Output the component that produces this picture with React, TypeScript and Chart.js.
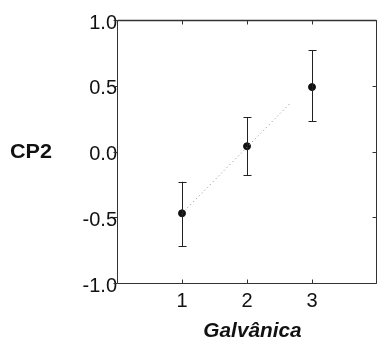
import React, { useEffect, useRef } from "react";
import { Chart, registerables } from "chart.js";

Chart.register(...registerables);

const groups = [1, 2, 3];
const means = [-0.47, 0.04, 0.49];
const upper = [-0.23, 0.26, 0.77];
const lower = [-0.72, -0.18, 0.23];
const fitX = [1, 2.67];
const fitY = [-0.47, 0.37];
const yTicks = [-1, -0.5, 0, 0.5, 1];
const xTicks = [1, 2, 3];
const yTitle = "CP2";
const xTitle = "Galvânica";

const FONT = "Arial, 'Liberation Sans', sans-serif";

const framePlugin = {
  id: "frameAndBars",
  beforeDatasetsDraw(chart: any) {
    const { ctx, chartArea: a, scales } = chart;
    const xs = scales.x;
    const ys = scales.y;
    ctx.save();
    ctx.strokeStyle = "#333";
    ctx.lineWidth = 1;
    const L = Math.round(a.left) + 0.5;
    const R = Math.round(a.right) - 0.5;
    const T = Math.round(a.top) + 0.5;
    const B = Math.round(a.bottom) + 0.5;
    ctx.beginPath();
    ctx.rect(L, T, R - L, B - T);
    ctx.stroke();
    ctx.lineWidth = 1.5;
    ctx.beginPath();
    ctx.moveTo(L, T);
    ctx.lineTo(R, T);
    ctx.stroke();
    ctx.lineWidth = 1;
    ctx.beginPath();
    for (const v of yTicks) {
      const py = Math.round(ys.getPixelForValue(v)) + 0.5;
      ctx.moveTo(L - 4, py);
      ctx.lineTo(L, py);
      ctx.moveTo(R - 4, py);
      ctx.lineTo(R, py);
    }
    for (const v of xTicks) {
      const px = Math.round(xs.getPixelForValue(v)) + 0.5;
      ctx.moveTo(px, B);
      ctx.lineTo(px, B - 4);
      ctx.moveTo(px, T);
      ctx.lineTo(px, T + 4);
    }
    ctx.stroke();
    ctx.restore();
  },
  afterDatasetsDraw(chart: any) {
    const { ctx, scales } = chart;
    const xs = scales.x;
    const ys = scales.y;
    ctx.save();
    ctx.strokeStyle = "#222";
    ctx.lineWidth = 1;
    for (let i = 0; i < groups.length; i++) {
      const px = Math.round(xs.getPixelForValue(groups[i])) + 0.5;
      const pt = ys.getPixelForValue(upper[i]);
      const pb = ys.getPixelForValue(lower[i]);
      ctx.beginPath();
      ctx.moveTo(px, pt);
      ctx.lineTo(px, pb);
      ctx.moveTo(px - 4, Math.round(pt) + 0.5);
      ctx.lineTo(px + 4, Math.round(pt) + 0.5);
      ctx.moveTo(px - 4, Math.round(pb) + 0.5);
      ctx.lineTo(px + 4, Math.round(pb) + 0.5);
      ctx.stroke();
    }
    ctx.fillStyle = "#111";
    ctx.font = `bold 20px ${FONT}`;
    ctx.textAlign = "left";
    ctx.textBaseline = "alphabetic";
    ctx.save();
    ctx.translate(10, 158);
    ctx.scale(1.08, 1);
    ctx.fillText(yTitle, 0, 0);
    ctx.restore();
    ctx.font = `italic bold 20px ${FONT}`;
    ctx.textAlign = "center";
    ctx.save();
    ctx.translate(252.5, 337);
    ctx.scale(1.04, 1);
    ctx.fillText(xTitle, 0, 0);
    ctx.restore();
    ctx.restore();
  },
};

export default function App() {
  const ref = useRef<HTMLCanvasElement | null>(null);
  useEffect(() => {
    if (!ref.current) return;
    const chart = new Chart(ref.current, {
      type: "scatter",
      data: {
        datasets: [
          {
            type: "line",
            data: fitX.map((x, i) => ({ x, y: fitY[i] })),
            borderColor: "#888",
            borderWidth: 1,
            borderDash: [1, 3],
            pointRadius: 0,
            showLine: true,
          } as any,
          {
            data: groups.map((x, i) => ({ x, y: means[i] })),
            backgroundColor: "#111",
            borderColor: "#111",
            pointRadius: 3.5,
          },
        ],
      },
      options: {
        animation: false,
        responsive: false,
        maintainAspectRatio: false,
        layout: { padding: { top: 20, right: 4, left: 0, bottom: 0 } },
        plugins: { legend: { display: false }, tooltip: { enabled: false } },
        scales: {
          x: {
            type: "linear",
            min: 0,
            max: 4,
            afterFit: (s: any) => {
              s.height = 59;
            },
            afterBuildTicks: (s: any) => {
              s.ticks = xTicks.map((v) => ({ value: v }));
            },
            grid: { display: false, drawTicks: false },
            border: { display: false },
            ticks: {
              padding: 6,
              color: "#111",
              font: { family: FONT, size: 20 },
              callback: (v: any) => String(v),
            },
          },
          y: {
            type: "linear",
            min: -1,
            max: 1,
            afterFit: (s: any) => {
              s.width = 117;
            },
            afterBuildTicks: (s: any) => {
              s.ticks = yTicks.map((v) => ({ value: v }));
            },
            grid: { display: false, drawTicks: false },
            border: { display: false },
            ticks: {
              padding: 0,
              labelOffset: 3,
              color: "#111",
              font: { family: FONT, size: 20 },
              callback: (v: any) => Number(v).toFixed(1),
            },
          },
        },
      },
      plugins: [framePlugin],
    });
    return () => chart.destroy();
  }, []);
  return (
    <div style={{ position: "fixed", left: 0, top: 0, width: 382, height: 342, background: "#fff" }}>
      <canvas ref={ref} width={382} height={342} style={{ width: 382, height: 342, display: "block" }} />
    </div>
  );
}
